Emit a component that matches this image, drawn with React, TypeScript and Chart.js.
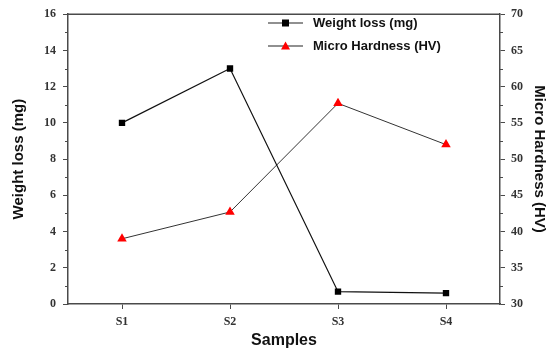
import { useEffect, useRef } from "react";
import { Chart, registerables } from "chart.js";

Chart.register(...registerables);

const categories = ["S1", "S2", "S3", "S4"];
const weightLoss = [10, 13, 0.68, 0.6];
const microHardness = [39, 42.7, 57.7, 52];
const seriesLabels = ["Weight loss (mg)", "Micro Hardness (HV)"];
const axisTitles = { x: "Samples", y: "Weight loss (mg)", y1: "Micro Hardness (HV)" };

const AXIS = "#4a4a4a";
const TICK_FONT = { family: "'Liberation Serif', serif", size: 12, weight: "bold" as const };
const TITLE_FONT = { family: "'Liberation Sans', Arial, sans-serif", size: 15, weight: "bold" as const };

const framePlugin = {
  id: "frameAndMinor",
  afterDraw(chart: any) {
    const ctx = chart.ctx;
    const { left, right, top } = chart.chartArea;
    ctx.save();
    ctx.strokeStyle = AXIS;
    ctx.lineWidth = 1.5;
    ctx.beginPath();
    ctx.moveTo(left, top);
    ctx.lineTo(right, top);
    ctx.stroke();
    // minor ticks
    ctx.lineWidth = 1;
    const y = chart.scales.y;
    for (let v = 1; v < 16; v += 2) {
      const p = Math.round(y.getPixelForValue(v)) + 0.5;
      ctx.beginPath();
      ctx.moveTo(left - 3, p);
      ctx.lineTo(left, p);
      ctx.stroke();
    }
    const y1 = chart.scales.y1;
    for (let v = 32.5; v < 70; v += 5) {
      const p = Math.round(y1.getPixelForValue(v)) + 0.5;
      ctx.beginPath();
      ctx.moveTo(right, p);
      ctx.lineTo(right + 3, p);
      ctx.stroke();
    }
    // legend
    const lx = 268;
    const rows = [23, 46];
    ctx.font = "bold 13px 'Liberation Sans', Arial, sans-serif";
    ctx.textBaseline = "middle";
    rows.forEach((ry, i) => {
      ctx.strokeStyle = "#222";
      ctx.lineWidth = 1.2;
      ctx.beginPath();
      ctx.moveTo(lx, ry);
      ctx.lineTo(lx + 35, ry);
      ctx.stroke();
      if (i === 0) {
        ctx.fillStyle = "#000";
        ctx.fillRect(lx + 14, ry - 3.5, 7, 7);
      } else {
        ctx.fillStyle = "#ff0000";
        ctx.beginPath();
        ctx.moveTo(lx + 17.5, ry - 4.5);
        ctx.lineTo(lx + 22, ry + 3.5);
        ctx.lineTo(lx + 13, ry + 3.5);
        ctx.closePath();
        ctx.fill();
      }
      ctx.fillStyle = "#111";
      ctx.fillText(seriesLabels[i], lx + 45, ry);
    });
    ctx.restore();
  },
};

export default function App() {
  const ref = useRef<HTMLCanvasElement>(null);
  useEffect(() => {
    document.body.style.margin = "0";
    const chart = new Chart(ref.current!, {
      type: "line",
      data: {
        labels: categories,
        datasets: [
          {
            label: seriesLabels[0],
            data: weightLoss,
            yAxisID: "y",
            borderColor: "#111",
            borderWidth: 1.2,
            pointStyle: "rect",
            pointRadius: 4.5,
            pointBackgroundColor: "#000",
            pointBorderColor: "#000",
            pointBorderWidth: 0,
          },
          {
            label: seriesLabels[1],
            data: microHardness,
            yAxisID: "y1",
            borderColor: "#333",
            borderWidth: 1,
            pointStyle: "triangle",
            pointRadius: 5.5,
            pointBackgroundColor: "#ff0000",
            pointBorderColor: "#ff0000",
            pointBorderWidth: 0,
          },
        ],
      },
      options: {
        responsive: false,
        animation: false,
        layout: { padding: { top: 14, left: 0, right: 0, bottom: 0 } },
        plugins: { legend: { display: false }, tooltip: { enabled: false } },
        scales: {
          x: {
            type: "category",
            offset: true,
            grid: { drawOnChartArea: false, color: AXIS, tickLength: 5, lineWidth: 1 },
            border: { color: AXIS, width: 1.5 },
            ticks: { font: TICK_FONT, color: "#333", padding: 6 },
            title: { display: true, text: axisTitles.x, font: { ...TITLE_FONT, size: 16 }, color: "#111", padding: { top: 2, bottom: 4 } },
            afterFit: (s: any) => { s.height = 50; },
          },
          y: {
            position: "left",
            min: 0,
            max: 16,
            ticks: { stepSize: 2, font: TICK_FONT, color: "#333", padding: 7 },
            grid: { drawOnChartArea: false, color: AXIS, tickLength: 5 },
            border: { color: AXIS, width: 1.5 },
            title: { display: true, text: axisTitles.y, font: TITLE_FONT, color: "#111", padding: { top: 10, bottom: 2 } },
            afterFit: (s: any) => { s.width = 68; },
          },
          y1: {
            position: "right",
            min: 30,
            max: 70,
            ticks: { stepSize: 5, font: TICK_FONT, color: "#333", padding: 6 },
            grid: { drawOnChartArea: false, color: AXIS, tickLength: 5 },
            border: { color: AXIS, width: 1.5 },
            title: { display: true, text: axisTitles.y1, font: TITLE_FONT, color: "#111", padding: { top: 4, bottom: 2 } },
            afterFit: (s: any) => { s.width = 52; },
          },
        },
      },
      plugins: [framePlugin],
    });
    return () => chart.destroy();
  }, []);
  return (
    <div style={{ width: 552, height: 354 }}>
      <canvas ref={ref} width={552} height={354} />
    </div>
  );
}
